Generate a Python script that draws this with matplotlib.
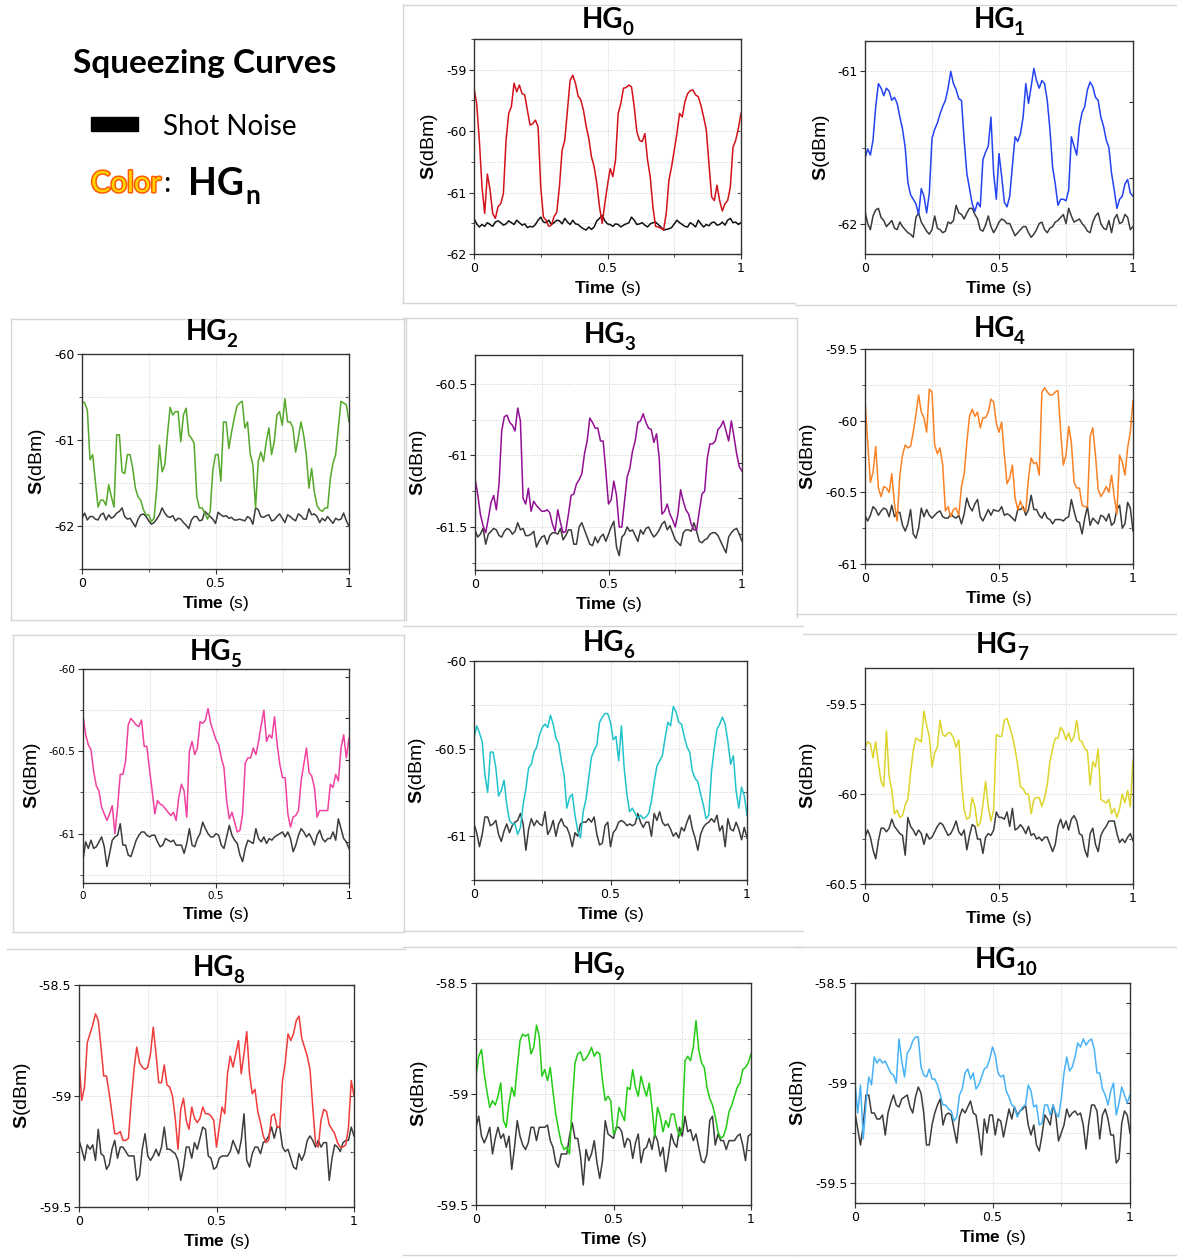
import numpy as np
import matplotlib.pyplot as plt
from matplotlib import patheffects
from matplotlib.lines import Line2D
from matplotlib.patches import Rectangle
from matplotlib.ticker import MultipleLocator, FuncFormatter

plt.rcParams['axes.unicode_minus'] = False
plt.rcParams['mathtext.fontset'] = 'custom'
plt.rcParams['mathtext.rm'] = 'Liberation Sans'
plt.rcParams['mathtext.bf'] = 'Liberation Sans:bold'

W, H = 1177, 1257

# traces every 0.01 s
time = np.linspace(0, 1, 101)

hg0_signal = [
    -59.30, -59.55, -60.15, -60.91, -61.34, -60.70, -60.95, -61.34, -61.42, -61.23,
    -61.18, -61.02, -60.15, -59.71, -59.60, -59.22, -59.36, -59.25, -59.39, -59.41,
    -59.66, -59.90, -59.88, -59.82, -59.93, -60.91, -61.40, -61.45, -61.55, -61.53,
    -61.39, -61.32, -60.90, -60.31, -60.15, -59.66, -59.17, -59.09, -59.22, -59.43,
    -59.49, -59.66, -59.92, -60.12, -60.42, -60.58, -60.85, -61.23, -61.50, -61.18,
    -60.88, -60.61, -60.74, -60.47, -59.71, -59.55, -59.30, -59.29, -59.25, -59.28,
    -59.60, -60.01, -60.15, -60.17, -60.04, -60.47, -60.74, -61.23, -61.55, -61.56,
    -61.58, -61.61, -61.34, -60.80, -60.58, -60.31, -60.04, -59.71, -59.77, -59.52,
    -59.39, -59.34, -59.33, -59.41, -59.44, -59.58, -59.77, -59.98, -60.53, -61.07,
    -61.13, -60.88, -61.13, -61.30, -61.18, -61.13, -60.91, -60.26, -60.15, -59.96,
    -59.71]
hg0_shot = [
    -61.42, -61.51, -61.56, -61.52, -61.55, -61.49, -61.52, -61.55, -61.48, -61.46,
    -61.49, -61.53, -61.51, -61.46, -61.49, -61.52, -61.45, -61.49, -61.53, -61.51,
    -61.57, -61.55, -61.56, -61.52, -61.45, -61.40, -61.48, -61.49, -61.45, -61.52,
    -61.49, -61.45, -61.46, -61.51, -61.42, -61.48, -61.52, -61.45, -61.51, -61.52,
    -61.56, -61.59, -61.61, -61.56, -61.60, -61.56, -61.46, -61.42, -61.37, -61.46,
    -61.51, -61.52, -61.55, -61.51, -61.52, -61.56, -61.53, -61.51, -61.49, -61.40,
    -61.45, -61.52, -61.51, -61.49, -61.53, -61.56, -61.51, -61.49, -61.48, -61.52,
    -61.56, -61.61, -61.60, -61.59, -61.57, -61.51, -61.45, -61.49, -61.52, -61.55,
    -61.56, -61.49, -61.52, -61.56, -61.45, -61.51, -61.56, -61.52, -61.54, -61.49,
    -61.48, -61.53, -61.52, -61.48, -61.53, -61.45, -61.42, -61.49, -61.48, -61.52,
    -61.49]

hg1_signal = [
    -61.57, -61.51, -61.55, -61.45, -61.23, -61.08, -61.11, -61.16, -61.11, -61.13,
    -61.19, -61.17, -61.21, -61.30, -61.38, -61.50, -61.73, -61.81, -61.84, -61.87,
    -61.94, -61.77, -61.82, -61.93, -61.80, -61.44, -61.38, -61.34, -61.28, -61.23,
    -61.19, -61.11, -61.00, -61.08, -61.12, -61.18, -61.19, -61.45, -61.67, -61.77,
    -61.87, -61.92, -61.86, -61.89, -61.58, -61.53, -61.49, -61.30, -61.67, -61.84,
    -61.54, -61.69, -61.86, -61.89, -61.82, -61.62, -61.43, -61.46, -61.41, -61.30,
    -61.08, -61.21, -61.10, -60.98, -61.06, -61.11, -61.06, -61.08, -61.19, -61.38,
    -61.63, -61.74, -61.88, -61.84, -61.84, -61.85, -61.78, -61.43, -61.49, -61.55,
    -61.36, -61.27, -61.23, -61.12, -61.07, -61.10, -61.17, -61.19, -61.30, -61.36,
    -61.45, -61.50, -61.67, -61.78, -61.90, -61.84, -61.82, -61.74, -61.71, -61.80,
    -61.82]
hg1_shot = [
    -61.92, -62.00, -62.04, -61.95, -61.91, -61.90, -61.96, -61.98, -62.02, -62.00,
    -61.98, -62.03, -62.04, -61.99, -62.02, -62.04, -62.06, -62.07, -62.09, -61.96,
    -61.93, -61.99, -62.02, -62.05, -62.07, -62.04, -61.95, -62.03, -62.04, -62.06,
    -62.05, -61.99, -62.00, -61.98, -61.88, -61.93, -61.94, -61.97, -61.93, -61.90,
    -61.90, -61.94, -61.97, -62.04, -62.05, -62.01, -61.95, -62.02, -62.06, -62.03,
    -61.99, -61.97, -61.98, -62.00, -62.00, -62.04, -62.08, -62.06, -62.04, -62.02,
    -62.02, -62.06, -62.09, -62.07, -62.04, -62.00, -61.99, -62.04, -62.06, -62.03,
    -62.02, -61.99, -61.98, -61.96, -61.94, -62.00, -61.90, -61.95, -61.99, -61.98,
    -61.97, -62.00, -62.02, -62.05, -62.06, -61.99, -61.95, -61.93, -62.00, -62.03,
    -62.04, -61.98, -62.06, -61.97, -61.94, -62.00, -61.99, -61.94, -61.96, -62.04,
    -62.02]

hg2_signal = [
    -60.55, -60.57, -60.65, -61.23, -61.17, -61.48, -61.78, -61.70, -61.70, -61.76,
    -61.52, -61.66, -61.78, -60.94, -60.94, -61.37, -61.39, -61.17, -61.17, -61.33,
    -61.56, -61.66, -61.70, -61.81, -61.87, -61.87, -61.95, -61.91, -61.56, -61.06,
    -61.37, -61.29, -60.94, -60.62, -60.71, -60.67, -60.67, -61.02, -60.71, -60.63,
    -60.94, -60.98, -61.04, -61.66, -61.79, -61.79, -61.85, -61.92, -61.83, -61.35,
    -61.17, -61.17, -61.48, -60.79, -60.79, -61.10, -60.91, -60.75, -60.61, -60.57,
    -60.55, -60.86, -60.79, -61.16, -61.29, -61.79, -61.25, -61.14, -61.25, -61.02,
    -60.86, -61.17, -61.02, -60.71, -60.67, -60.83, -60.52, -60.79, -60.79, -60.86,
    -61.14, -60.98, -60.79, -60.94, -61.17, -61.56, -61.33, -61.60, -61.76, -61.81,
    -61.83, -61.79, -61.79, -61.45, -61.27, -61.17, -60.86, -60.55, -60.57, -60.59,
    -60.79]
hg2_shot = [
    -61.91, -61.85, -61.93, -61.89, -61.89, -61.92, -61.93, -61.87, -61.85, -61.93,
    -61.87, -61.91, -61.89, -61.85, -61.83, -61.79, -61.89, -61.92, -61.91, -61.96,
    -62.01, -61.92, -61.87, -61.86, -61.89, -61.94, -61.98, -61.96, -61.92, -61.87,
    -61.79, -61.85, -61.89, -61.90, -61.88, -61.94, -61.91, -61.92, -61.96, -61.99,
    -62.03, -61.93, -61.89, -61.89, -61.94, -61.93, -61.83, -61.86, -61.89, -61.92,
    -61.97, -61.84, -61.87, -61.89, -61.88, -61.91, -61.90, -61.93, -61.93, -61.92,
    -61.93, -61.94, -61.89, -61.91, -61.98, -61.79, -61.81, -61.89, -61.90, -61.88,
    -61.87, -61.94, -61.93, -61.89, -61.86, -61.91, -61.96, -61.87, -61.89, -61.92,
    -61.94, -61.86, -61.88, -61.92, -61.92, -61.80, -61.87, -61.86, -61.89, -61.96,
    -61.91, -61.94, -61.89, -61.93, -61.97, -61.91, -61.93, -61.92, -61.85, -61.94,
    -62.00]

hg3_signal = [
    -61.16, -61.27, -61.41, -61.49, -61.54, -61.44, -61.33, -61.28, -61.38, -61.20,
    -60.83, -60.73, -60.72, -60.77, -60.79, -60.83, -60.67, -60.76, -61.30, -61.34,
    -61.23, -61.39, -61.32, -61.35, -61.37, -61.39, -61.39, -61.38, -61.40, -61.48,
    -61.53, -61.38, -61.47, -61.54, -61.53, -61.41, -61.28, -61.27, -61.20, -61.17,
    -61.13, -60.99, -60.90, -60.74, -60.77, -60.81, -60.81, -60.90, -60.90, -61.11,
    -61.34, -61.31, -61.18, -61.28, -61.50, -61.50, -61.32, -61.15, -61.09, -60.97,
    -60.90, -60.77, -60.76, -60.71, -60.77, -60.81, -60.82, -60.91, -60.85, -61.02,
    -61.41, -61.39, -61.34, -61.41, -61.45, -61.50, -61.41, -61.24, -61.32, -61.38,
    -61.41, -61.48, -61.52, -61.52, -61.39, -61.27, -61.25, -61.02, -60.92, -60.92,
    -60.90, -60.82, -60.80, -60.76, -60.83, -60.90, -60.76, -60.87, -60.99, -61.08,
    -61.11]
hg3_shot = [
    -61.52, -61.57, -61.55, -61.51, -61.62, -61.55, -61.53, -61.51, -61.52, -61.56,
    -61.57, -61.53, -61.51, -61.52, -61.55, -61.53, -61.47, -61.52, -61.51, -61.56,
    -61.56, -61.55, -61.53, -61.64, -61.60, -61.57, -61.56, -61.62, -61.56, -61.54,
    -61.54, -61.55, -61.51, -61.59, -61.56, -61.52, -61.52, -61.62, -61.62, -61.50,
    -61.47, -61.52, -61.57, -61.62, -61.63, -61.57, -61.61, -61.57, -61.55, -61.60,
    -61.55, -61.50, -61.46, -61.64, -61.70, -61.57, -61.55, -61.50, -61.53, -61.52,
    -61.56, -61.60, -61.52, -61.55, -61.51, -61.50, -61.54, -61.57, -61.55, -61.52,
    -61.48, -61.46, -61.52, -61.49, -61.54, -61.59, -61.61, -61.63, -61.54, -61.52,
    -61.52, -61.53, -61.47, -61.53, -61.60, -61.61, -61.59, -61.58, -61.55, -61.54,
    -61.54, -61.56, -61.60, -61.64, -61.68, -61.57, -61.54, -61.52, -61.51, -61.55,
    -61.60]

hg4_signal = [
    -59.85, -60.15, -60.43, -60.36, -60.18, -60.47, -60.53, -60.46, -60.47, -60.50,
    -60.37, -60.58, -60.70, -60.38, -60.24, -60.17, -60.19, -60.18, -60.08, -59.96,
    -59.82, -59.94, -59.98, -60.08, -59.78, -59.80, -60.17, -60.23, -60.19, -60.31,
    -60.63, -60.60, -60.67, -60.62, -60.61, -60.66, -60.46, -60.37, -60.15, -59.97,
    -59.92, -59.97, -59.94, -60.05, -59.98, -59.98, -59.94, -59.85, -59.87, -60.02,
    -60.08, -60.01, -60.24, -60.44, -60.40, -60.31, -60.54, -60.62, -60.56, -60.62,
    -60.63, -60.40, -60.26, -60.30, -60.29, -60.38, -59.80, -59.77, -59.80, -59.82,
    -59.82, -59.80, -59.79, -60.07, -60.31, -60.24, -60.04, -60.15, -60.43, -60.47,
    -60.47, -60.59, -60.60, -60.60, -60.11, -60.05, -60.24, -60.48, -60.53, -60.50,
    -60.46, -60.50, -60.38, -60.53, -60.65, -60.24, -60.29, -60.38, -60.19, -60.08,
    -59.86]
hg4_shot = [
    -60.66, -60.70, -60.66, -60.60, -60.62, -60.66, -60.63, -60.61, -60.62, -60.67,
    -60.59, -60.67, -60.64, -60.64, -60.73, -60.77, -60.72, -60.62, -60.79, -60.82,
    -60.75, -60.61, -60.67, -60.62, -60.66, -60.68, -60.66, -60.64, -60.63, -60.67,
    -60.68, -60.68, -60.65, -60.67, -60.68, -60.66, -60.72, -60.65, -60.54, -60.60,
    -60.63, -60.58, -60.55, -60.67, -60.70, -60.66, -60.62, -60.66, -60.62, -60.63,
    -60.63, -60.60, -60.66, -60.65, -60.66, -60.68, -60.70, -60.62, -60.62, -60.60,
    -60.66, -60.62, -60.52, -60.62, -60.62, -60.66, -60.68, -60.64, -60.68, -60.69,
    -60.72, -60.69, -60.69, -60.69, -60.70, -60.68, -60.67, -60.55, -60.63, -60.70,
    -60.71, -60.79, -60.68, -60.60, -60.73, -60.68, -60.70, -60.72, -60.66, -60.67,
    -60.70, -60.65, -60.73, -60.71, -60.62, -60.59, -60.75, -60.72, -60.57, -60.61,
    -60.77]

hg5_signal = [
    -60.28, -60.40, -60.46, -60.49, -60.62, -60.71, -60.74, -60.84, -60.88, -60.92,
    -60.88, -60.83, -61.00, -60.84, -60.64, -60.64, -60.56, -60.34, -60.30, -60.32,
    -60.34, -60.35, -60.31, -60.47, -60.47, -60.61, -60.74, -60.88, -60.80, -60.82,
    -60.83, -60.85, -60.87, -60.89, -60.87, -60.92, -60.78, -60.70, -60.74, -60.90,
    -60.50, -60.44, -60.52, -60.48, -60.32, -60.33, -60.31, -60.24, -60.33, -60.38,
    -60.43, -60.46, -60.54, -60.60, -60.80, -60.91, -60.87, -60.93, -60.99, -60.98,
    -60.88, -60.57, -60.54, -60.54, -60.48, -60.52, -60.44, -60.34, -60.25, -60.44,
    -60.40, -60.42, -60.29, -60.46, -60.58, -60.66, -60.66, -60.88, -60.96, -60.90,
    -60.89, -60.86, -60.68, -60.58, -60.48, -60.63, -60.65, -60.72, -60.90, -60.86,
    -60.86, -60.86, -60.86, -60.70, -60.72, -60.64, -60.68, -60.48, -60.40, -60.54,
    -60.42]
hg5_shot = [
    -61.16, -61.05, -61.09, -61.04, -61.09, -61.08, -61.05, -61.02, -61.08, -61.20,
    -61.12, -61.04, -61.02, -61.01, -60.94, -61.07, -61.07, -61.13, -61.14, -61.09,
    -61.04, -61.01, -60.99, -60.99, -61.01, -61.02, -61.01, -61.01, -61.05, -61.08,
    -61.07, -61.03, -61.04, -61.05, -61.04, -61.07, -61.07, -61.07, -61.12, -61.06,
    -60.97, -61.07, -61.08, -61.03, -61.00, -60.93, -60.97, -61.00, -61.02, -61.02,
    -61.00, -61.01, -61.07, -61.09, -61.02, -60.95, -61.01, -61.04, -61.06, -61.13,
    -61.17, -61.09, -61.04, -61.05, -61.06, -60.97, -61.03, -61.05, -61.02, -61.06,
    -61.03, -61.04, -61.02, -61.01, -61.00, -60.99, -61.02, -60.99, -61.03, -61.11,
    -61.07, -61.01, -60.97, -60.99, -61.02, -61.00, -61.03, -61.07, -61.01, -60.98,
    -61.03, -61.05, -61.03, -61.03, -60.99, -61.04, -60.91, -60.97, -61.03, -61.05,
    -61.09]

hg6_signal = [
    -60.44, -60.37, -60.41, -60.46, -60.65, -60.75, -60.52, -60.52, -60.61, -60.77,
    -60.74, -60.68, -60.82, -60.91, -60.93, -60.93, -60.99, -60.95, -60.82, -60.73,
    -60.61, -60.59, -60.52, -60.49, -60.42, -60.38, -60.36, -60.38, -60.31, -60.36,
    -60.44, -60.47, -60.57, -60.65, -60.84, -60.78, -60.76, -60.88, -60.97, -61.01,
    -60.86, -60.79, -60.67, -60.55, -60.51, -60.48, -60.35, -60.32, -60.30, -60.30,
    -60.35, -60.45, -60.43, -60.57, -60.37, -60.61, -60.76, -60.86, -60.84, -60.87,
    -60.90, -60.88, -60.90, -60.89, -60.87, -60.80, -60.69, -60.60, -60.57, -60.54,
    -60.44, -60.35, -60.37, -60.26, -60.29, -60.35, -60.36, -60.43, -60.49, -60.52,
    -60.63, -60.67, -60.69, -60.76, -60.82, -60.90, -60.88, -60.63, -60.50, -60.39,
    -60.36, -60.32, -60.36, -60.46, -60.59, -60.54, -60.74, -60.84, -60.72, -60.77,
    -60.88]
hg6_shot = [
    -60.93, -60.98, -61.06, -60.99, -60.89, -60.89, -60.94, -60.93, -60.91, -60.99,
    -61.03, -60.97, -60.93, -60.98, -60.94, -60.92, -60.91, -60.87, -60.93, -61.08,
    -60.96, -60.90, -60.94, -60.91, -60.93, -60.94, -60.86, -60.99, -60.96, -60.91,
    -61.00, -60.93, -60.90, -60.94, -60.95, -60.99, -61.06, -60.98, -61.00, -60.93,
    -60.92, -60.92, -60.90, -60.92, -60.89, -60.99, -61.05, -61.04, -60.94, -60.92,
    -61.06, -60.98, -60.96, -60.92, -60.91, -60.92, -60.94, -60.93, -60.94, -60.93,
    -60.87, -60.92, -60.95, -60.92, -60.92, -61.00, -60.87, -60.91, -60.86, -60.92,
    -60.94, -60.93, -60.96, -61.00, -60.98, -61.01, -60.95, -60.97, -60.92, -60.88,
    -60.96, -61.01, -61.08, -60.99, -60.95, -60.93, -60.92, -60.90, -60.92, -60.88,
    -60.97, -60.94, -61.06, -60.90, -60.96, -60.97, -60.92, -60.96, -61.02, -60.95,
    -61.01]

hg7_signal = [
    -59.74, -59.71, -59.72, -59.80, -59.71, -59.83, -59.93, -59.96, -59.65, -59.90,
    -59.98, -60.11, -60.09, -60.13, -60.12, -60.06, -60.03, -59.88, -59.76, -59.69,
    -59.70, -59.71, -59.54, -59.62, -59.68, -59.85, -59.77, -59.74, -59.59, -59.67,
    -59.68, -59.66, -59.66, -59.69, -59.74, -59.70, -59.93, -60.09, -60.14, -60.13,
    -60.02, -60.07, -60.18, -60.16, -60.06, -59.93, -60.07, -60.15, -60.09, -59.67,
    -59.68, -59.68, -59.59, -59.58, -59.63, -59.68, -59.75, -59.84, -59.96, -59.97,
    -60.00, -60.00, -60.11, -60.03, -60.02, -60.02, -60.07, -60.02, -59.95, -59.82,
    -59.75, -59.69, -59.69, -59.63, -59.65, -59.70, -59.66, -59.71, -59.68, -59.59,
    -59.70, -59.71, -59.75, -59.76, -59.95, -59.82, -59.85, -59.75, -60.03, -60.04,
    -60.05, -60.03, -60.11, -60.08, -60.13, -60.08, -60.00, -60.05, -59.98, -60.07,
    -59.81]
hg7_shot = [
    -60.24, -60.20, -60.24, -60.31, -60.36, -60.26, -60.19, -60.19, -60.21, -60.19,
    -60.14, -60.18, -60.20, -60.22, -60.23, -60.34, -60.13, -60.18, -60.20, -60.23,
    -60.20, -60.22, -60.28, -60.22, -60.25, -60.24, -60.21, -60.18, -60.16, -60.17,
    -60.20, -60.23, -60.22, -60.19, -60.15, -60.21, -60.23, -60.20, -60.31, -60.23,
    -60.17, -60.18, -60.25, -60.25, -60.33, -60.24, -60.22, -60.23, -60.20, -60.10,
    -60.13, -60.13, -60.14, -60.10, -60.18, -60.08, -60.20, -60.19, -60.17, -60.19,
    -60.22, -60.18, -60.23, -60.22, -60.25, -60.24, -60.26, -60.24, -60.24, -60.28,
    -60.32, -60.28, -60.18, -60.14, -60.19, -60.15, -60.20, -60.14, -60.12, -60.15,
    -60.22, -60.23, -60.31, -60.35, -60.22, -60.19, -60.28, -60.32, -60.23, -60.20,
    -60.18, -60.15, -60.15, -60.15, -60.22, -60.27, -60.25, -60.27, -60.24, -60.22,
    -60.26]

hg8_signal = [
    -58.84, -59.02, -58.96, -58.76, -58.72, -58.68, -58.63, -58.66, -58.78, -58.91,
    -58.91, -58.99, -59.08, -59.17, -59.17, -59.16, -59.20, -59.20, -59.19, -59.02,
    -58.88, -58.78, -58.85, -58.87, -58.88, -58.87, -58.81, -58.69, -58.81, -58.94,
    -58.94, -58.86, -58.95, -58.96, -59.00, -59.10, -59.24, -59.06, -59.01, -59.11,
    -59.15, -59.05, -59.10, -59.12, -59.10, -59.05, -59.08, -59.08, -59.09, -59.11,
    -59.23, -59.14, -59.05, -59.08, -58.90, -58.82, -58.87, -58.81, -58.75, -58.90,
    -58.81, -58.71, -58.90, -58.99, -58.97, -59.07, -59.12, -59.18, -59.21, -59.20,
    -59.09, -59.08, -59.14, -59.14, -58.93, -58.85, -58.72, -58.75, -58.72, -58.66,
    -58.64, -58.74, -58.78, -58.82, -58.88, -59.05, -59.21, -59.23, -59.11, -59.06,
    -59.07, -59.13, -59.15, -59.17, -59.21, -59.23, -59.23, -59.22, -59.14, -58.93,
    -59.00]
hg8_shot = [
    -59.20, -59.24, -59.29, -59.22, -59.24, -59.22, -59.29, -59.15, -59.26, -59.27,
    -59.33, -59.31, -59.24, -59.20, -59.28, -59.23, -59.23, -59.25, -59.27, -59.27,
    -59.27, -59.38, -59.36, -59.24, -59.17, -59.27, -59.29, -59.27, -59.24, -59.27,
    -59.23, -59.14, -59.24, -59.24, -59.25, -59.26, -59.29, -59.38, -59.32, -59.23,
    -59.23, -59.28, -59.21, -59.24, -59.19, -59.14, -59.15, -59.27, -59.28, -59.33,
    -59.32, -59.28, -59.27, -59.27, -59.27, -59.25, -59.20, -59.23, -59.26, -59.20,
    -59.08, -59.29, -59.32, -59.26, -59.23, -59.23, -59.26, -59.21, -59.20, -59.18,
    -59.14, -59.19, -59.14, -59.14, -59.23, -59.25, -59.24, -59.28, -59.32, -59.33,
    -59.26, -59.29, -59.26, -59.20, -59.18, -59.20, -59.23, -59.20, -59.23, -59.21,
    -59.21, -59.38, -59.28, -59.22, -59.23, -59.25, -59.21, -59.20, -59.20, -59.14,
    -59.18]

hg9_signal = [
    -58.92, -58.83, -58.80, -58.91, -58.99, -59.06, -59.03, -59.05, -59.01, -58.95,
    -59.12, -59.15, -59.04, -58.97, -59.01, -58.88, -58.76, -58.73, -58.74, -58.73,
    -58.82, -58.79, -58.69, -58.74, -58.92, -58.89, -58.94, -58.88, -58.99, -59.09,
    -59.16, -59.22, -59.25, -59.24, -59.27, -59.04, -58.86, -58.82, -58.81, -58.85,
    -58.84, -58.82, -58.79, -58.83, -58.81, -58.82, -58.94, -59.03, -59.01, -59.03,
    -59.18, -59.16, -59.06, -59.09, -59.12, -58.97, -58.98, -58.89, -58.97, -59.01,
    -58.92, -58.97, -59.01, -58.95, -59.06, -59.19, -59.06, -59.10, -59.17, -59.12,
    -59.15, -59.09, -59.09, -59.15, -59.19, -59.15, -58.85, -58.83, -58.85, -58.79,
    -58.67, -58.80, -58.86, -58.88, -58.97, -59.02, -59.05, -59.10, -59.17, -59.20,
    -59.19, -59.15, -59.08, -59.05, -59.01, -58.97, -58.95, -58.89, -58.88, -58.86,
    -58.82]
hg9_shot = [
    -59.15, -59.10, -59.19, -59.22, -59.19, -59.15, -59.27, -59.20, -59.15, -59.20,
    -59.18, -59.24, -59.19, -59.34, -59.24, -59.12, -59.19, -59.23, -59.25, -59.22,
    -59.15, -59.15, -59.21, -59.15, -59.15, -59.15, -59.14, -59.21, -59.24, -59.31,
    -59.33, -59.27, -59.27, -59.27, -59.19, -59.13, -59.20, -59.20, -59.28, -59.41,
    -59.25, -59.30, -59.27, -59.21, -59.31, -59.38, -59.30, -59.12, -59.18, -59.19,
    -59.20, -59.15, -59.15, -59.17, -59.24, -59.20, -59.21, -59.29, -59.22, -59.18,
    -59.31, -59.25, -59.24, -59.20, -59.25, -59.18, -59.21, -59.28, -59.24, -59.35,
    -59.27, -59.18, -59.22, -59.24, -59.15, -59.19, -59.10, -59.17, -59.16, -59.21,
    -59.18, -59.24, -59.30, -59.31, -59.27, -59.12, -59.10, -59.23, -59.18, -59.21,
    -59.21, -59.25, -59.21, -59.21, -59.21, -59.19, -59.18, -59.23, -59.30, -59.19,
    -59.18]

hg10_signal = [
    -59.00, -59.15, -59.01, -59.28, -59.10, -58.97, -59.01, -58.87, -58.90, -58.88,
    -58.90, -58.89, -58.92, -58.95, -58.96, -59.00, -58.78, -58.89, -58.97, -58.85,
    -58.83, -58.79, -58.77, -58.77, -58.92, -58.96, -58.97, -58.93, -58.98, -58.98,
    -59.01, -59.06, -59.11, -59.11, -59.13, -59.14, -59.19, -59.17, -59.06, -59.03,
    -58.95, -58.93, -58.98, -58.95, -59.03, -59.01, -58.97, -58.93, -58.92, -58.88,
    -58.82, -58.86, -58.95, -58.97, -58.96, -59.04, -59.07, -59.11, -59.12, -59.17,
    -59.14, -59.12, -59.11, -59.01, -59.04, -59.12, -59.11, -59.21, -59.20, -59.11,
    -59.11, -59.16, -59.11, -59.15, -59.17, -59.08, -58.95, -58.87, -58.94, -58.92,
    -58.87, -58.80, -58.82, -58.78, -58.81, -58.79, -58.78, -58.83, -58.95, -58.95,
    -59.03, -59.06, -59.11, -59.04, -59.00, -59.16, -59.10, -59.02, -59.06, -59.10,
    -59.06]
hg10_shot = [
    -59.15, -59.23, -59.31, -59.21, -59.06, -59.06, -59.15, -59.15, -59.18, -59.18,
    -59.16, -59.26, -59.15, -59.10, -59.06, -59.11, -59.12, -59.08, -59.07, -59.06,
    -59.12, -59.15, -59.07, -59.02, -59.05, -59.15, -59.31, -59.31, -59.21, -59.15,
    -59.11, -59.08, -59.21, -59.16, -59.15, -59.16, -59.23, -59.30, -59.17, -59.13,
    -59.15, -59.12, -59.09, -59.15, -59.16, -59.25, -59.36, -59.18, -59.25, -59.16,
    -59.16, -59.26, -59.18, -59.19, -59.27, -59.20, -59.13, -59.18, -59.12, -59.16,
    -59.14, -59.13, -59.11, -59.21, -59.26, -59.21, -59.31, -59.34, -59.26, -59.16,
    -59.18, -59.21, -59.11, -59.16, -59.29, -59.25, -59.21, -59.13, -59.17, -59.15,
    -59.14, -59.16, -59.15, -59.21, -59.33, -59.20, -59.11, -59.11, -59.14, -59.28,
    -59.16, -59.13, -59.18, -59.26, -59.26, -59.40, -59.38, -59.20, -59.14, -59.16,
    -59.25]

signals = [hg0_signal, hg1_signal, hg2_signal, hg3_signal, hg4_signal, hg5_signal,
           hg6_signal, hg7_signal, hg8_signal, hg9_signal, hg10_signal]
shots = [hg0_shot, hg1_shot, hg2_shot, hg3_shot, hg4_shot, hg5_shot,
         hg6_shot, hg7_shot, hg8_shot, hg9_shot, hg10_shot]

y_limits = [(-62, -58.5), (-62.2, -60.8), (-62.5, -60), (-61.8, -60.3), (-61, -59.5), (-61.3, -60),
            (-61.25, -60), (-60.5, -59.3), (-59.5, -58.5), (-59.5, -58.5), (-59.6, -58.5)]
y_ticks = [[-62, -61, -60, -59], [-62, -61], [-62, -61, -60], [-61.5, -61, -60.5],
           [-61, -60.5, -60, -59.5], [-61, -60.5, -60], [-61, -60.5, -60], [-60.5, -60, -59.5],
           [-59.5, -59, -58.5], [-59.5, -59, -58.5], [-59.5, -59, -58.5]]
grid_steps = [0.5, 0.5, 0.5, 0.25, 0.25, 0.25, 0.25, 0.25, 0.25, 0.25, 0.25]

colors = ['#d3121b', '#2443f2', '#55a82a', '#920f94', '#fb8224', '#f0419f',
          '#21c3cb', '#ddd42c', '#f03b3b', '#22cc14', '#48b2f6']
shot_colors = ['#111111'] + ['#3c3c3c'] * 10

# axes boxes in pixels: left, top, right, bottom
boxes = [(474, 39, 741, 254), (865, 41, 1133, 254),
         (82, 354, 349, 569), (475, 355, 742, 570), (865, 349, 1133, 564),
         (83, 669, 349, 883), (474, 661, 747, 880), (865, 668, 1133, 884),
         (79, 985, 354, 1207), (476, 983, 751, 1205), (855, 983, 1130, 1203)]
# "HG" centre shift and baseline height (px) relative to the top centre of each axes
title_offsets = [(-5, 11), (-5, 13), (-9, 14), (-4, 12), (-5, 12), (-6, 9),
                 (-7, 10), (-2, 15), (-3, 9), (-20, 10), (3, 15)]

fig = plt.figure(figsize=(W / 100, H / 100), dpi=100)
fig.patch.set_facecolor('white')
renderer = fig.canvas.get_renderer()


def fx(x):
    return x / W


def fy(y):
    return 1 - y / H


def text_width(s, **kw):
    probe = fig.text(0, 0, s, **kw)
    w = probe.get_window_extent(renderer).width
    probe.remove()
    return w


title_kw = dict(fontsize=20, fontweight='bold', family='Lato')
hg_w = text_width('HG', **title_kw)

fmt = FuncFormatter(lambda v, p: f'{v:g}')

for n in range(11):
    l, t, r, b = boxes[n]
    ax = fig.add_axes([fx(l), fy(b), (r - l) / W, (b - t) / H])
    ax.plot(time, shots[n], color=shot_colors[n], lw=1.1)
    ax.plot(time, signals[n], color=colors[n], lw=1.1)
    ax.set_xlim(0, 1)
    ax.set_ylim(*y_limits[n])
    ax.set_xticks([0, 0.5, 1])
    ax.set_yticks(y_ticks[n])
    ax.xaxis.set_minor_locator(MultipleLocator(0.25))
    ax.yaxis.set_minor_locator(MultipleLocator(grid_steps[n]))
    ax.xaxis.set_major_formatter(fmt)
    ax.yaxis.set_major_formatter(fmt)
    ax.grid(which='both', ls=':', color='#cfcfcf', lw=0.7)
    ax.set_axisbelow(True)
    tick_size = 7.5 if n == 5 else 9
    ax.tick_params(which='both', direction='out', labelsize=tick_size, color='#333333')
    ax.tick_params(which='major', length=3.5, pad=2)
    ax.tick_params(which='minor', length=2)
    for s in ax.spines.values():
        s.set_color('#333333')
        s.set_linewidth(1.0)
    sec = ax.secondary_yaxis('right')
    sec.set_yticks(np.arange(y_limits[n][0], y_limits[n][1] + 1e-9, grid_steps[n]))
    sec.tick_params(direction='in', length=3, labelright=False, color='#333333')
    sec.spines['right'].set_visible(False)

    ax.set_ylabel(r'$\mathbf{S}\mathrm{(dBm)}$', fontsize=14, labelpad=4)
    ax.set_xlabel(r'$\mathbf{Time}\ \mathrm{(s)}$', fontsize=12.5, labelpad=3)

    dx, dy = title_offsets[n]
    base = t - dy
    left = (l + r) / 2 + dx - hg_w / 2
    fig.text(fx(left), fy(base), 'HG', ha='left', va='baseline', **title_kw)
    fig.text(fx(left + hg_w - 1), fy(base + 7), str(n), ha='left', va='baseline',
             fontsize=13.5, fontweight='bold', family='Lato')

# light panel frames from the original screenshots
frame_segments = [
    [(403, 5), (403, 303)], [(403, 303), (795, 303)], [(403, 5), (1177, 5)],
    [(795, 305), (1177, 305)],
    [(11, 319), (404, 319)], [(11, 319), (11, 620)], [(11, 620), (404, 620)], [(404, 319), (404, 620)],
    [(403, 318), (797, 318)], [(406, 318), (406, 620)], [(797, 318), (797, 617)],
    [(796, 614), (1177, 614)],
    [(13, 635), (404, 635)], [(13, 635), (13, 932)], [(13, 932), (404, 932)], [(404, 635), (404, 932)],
    [(403, 626), (803, 626)], [(403, 931), (803, 931)],
    [(803, 634), (1177, 634)],
    [(7, 949), (405, 949)],
    [(403, 947), (803, 947)], [(403, 1255), (803, 1255)],
    [(795, 947), (1177, 947)], [(795, 1255), (1177, 1255)],
]
for (x0, y0), (x1, y1) in frame_segments:
    fig.add_artist(Line2D([fx(x0), fx(x1)], [fy(y0), fy(y1)], transform=fig.transFigure,
                          color='#d6d6d6', lw=1.0))

# key in the top-left corner
fig.text(fx(205), fy(73), 'Squeezing Curves', ha='center', va='baseline',
         fontsize=24, fontweight='bold', family='Lato')
fig.add_artist(Rectangle((fx(91), fy(131)), 47 / W, 14 / H, transform=fig.transFigure,
                         color='black'))
fig.text(fx(163), fy(135), 'Shot Noise', va='baseline', fontsize=20, family='Lato')

color_kw = dict(fontsize=21, family='Lato')
color_w = text_width('Color', **color_kw)
fig.text(fx(91), fy(192), 'Color', va='baseline', color='#ffd400',
         path_effects=[patheffects.withStroke(linewidth=2.2, foreground='#ff5a00')], **color_kw)
fig.text(fx(91 + color_w + 2), fy(192), ':', va='baseline', **color_kw)

key_kw = dict(fontsize=27, fontweight='bold', family='Lato')
key_w = text_width('HG', **key_kw)
fig.text(fx(188), fy(195), 'HG', va='baseline', **key_kw)
fig.text(fx(188 + key_w + 1), fy(204), 'n', va='baseline', fontsize=19, fontweight='bold',
         family='Lato')

fig.savefig('out.png', dpi=100, facecolor='white')
